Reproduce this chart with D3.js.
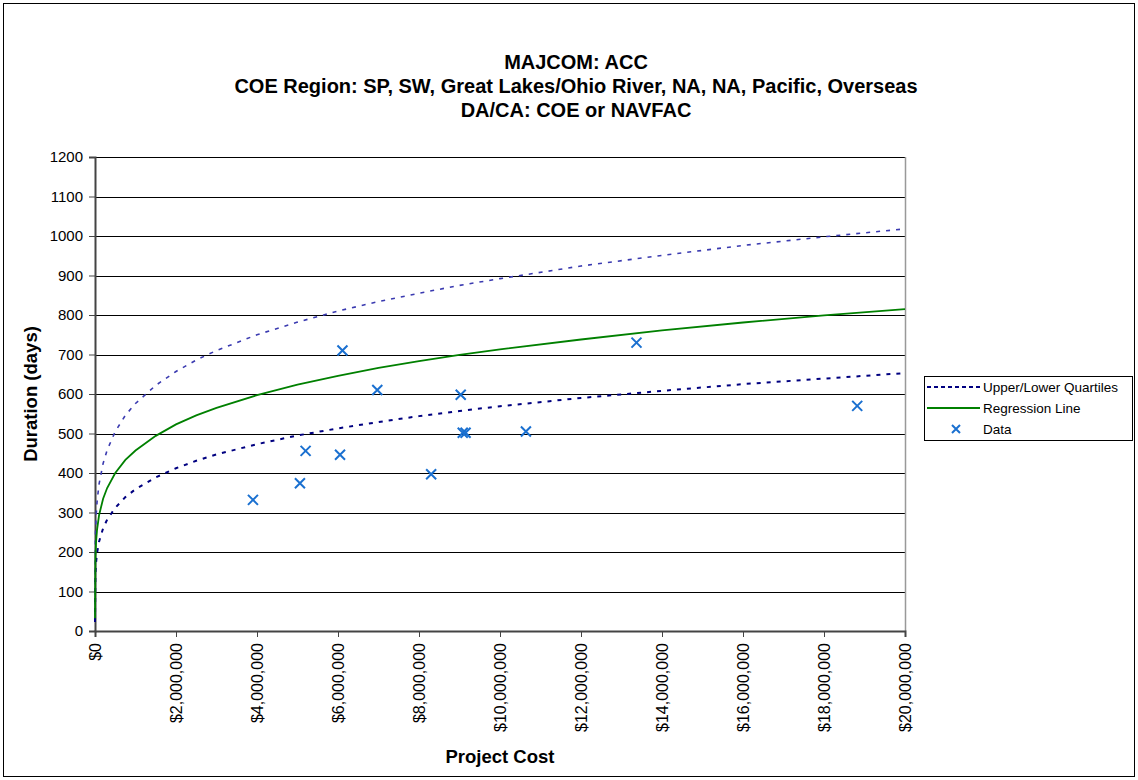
<!DOCTYPE html>
<html>
<head>
<meta charset="utf-8">
<script src="https://cdn.jsdelivr.net/npm/d3@7"></script>
<style>
  html, body { margin: 0; padding: 0; background: #fff; }
  svg text { font-family: "Liberation Sans", Arial, sans-serif; }
</style>
</head>
<body>
<svg id="chart" width="1138" height="780"></svg>
<script>
// ---- data ----
const titleLines = [
  "MAJCOM: ACC",
  "COE Region: SP, SW, Great Lakes/Ohio River, NA, NA, Pacific, Overseas",
  "DA/CA: COE or NAVFAC"
];
const xTicks = [0, 2000000, 4000000, 6000000, 8000000, 10000000, 12000000, 14000000, 16000000, 18000000, 20000000];
const yTicks = [0, 100, 200, 300, 400, 500, 600, 700, 800, 900, 1000, 1100, 1200];

// curve sample positions (project cost)
const curveX = [1, 10000, 25000, 50000, 100000, 200000, 300000, 500000, 750000, 1000000,
  1500000, 2000000, 2500000, 3000000, 4000000, 5000000, 6000000, 7000000, 8000000, 9000000,
  10000000, 12000000, 14000000, 16000000, 18000000, 20000000];
const regressionY = [32, 188, 224, 256, 293, 335, 362, 400, 433, 457,
  494, 523, 546, 565, 597, 624, 646, 666, 683, 699,
  713, 738, 761, 781, 799, 815];
const upperY = [42, 240, 286, 326, 372, 424, 458, 505, 546, 576,
  622, 657, 686, 710, 750, 782, 810, 834, 855, 875,
  892, 924, 951, 976, 998, 1018];
const lowerY = [23, 143, 172, 197, 226, 260, 282, 312, 339, 359,
  389, 412, 431, 447, 473, 495, 513, 529, 544, 557,
  569, 590, 608, 625, 639, 653];

// data points
const dataX = [3900000, 5060000, 5200000, 6050000, 6110000, 6970000, 8300000, 9030000, 9080000, 9150000, 10640000, 13370000, 18820000];
const dataY = [332, 374, 456, 446, 710, 610, 397, 598, 502, 502, 505, 730, 570];

const legendLabels = ["Upper/Lower Quartiles", "Regression Line", "Data"];

// ---- drawing ----
const svg = d3.select("#chart");
const W = 1138, H = 780;
const m = {left: 95, right: 905, top: 157, bottom: 631};

const x = d3.scaleLinear().domain([0, 20000000]).range([m.left, m.right]);
const y = d3.scaleLinear().domain([0, 1200]).range([m.bottom, m.top]);

svg.append("rect").attr("x", 0).attr("y", 0).attr("width", W).attr("height", H).attr("fill", "#fff");
svg.append("rect").attr("x", 3.5).attr("y", 3.5).attr("width", W - 7).attr("height", H - 7)
  .attr("fill", "none").attr("stroke", "#000").attr("stroke-width", 1);

// titles
svg.selectAll("text.title").data(titleLines).join("text")
  .attr("class", "title")
  .attr("x", 576).attr("y", (d, i) => 69 + i * 24)
  .attr("text-anchor", "middle")
  .attr("font-size", 20).attr("font-weight", "bold")
  .text(d => d);

// gridlines
svg.append("g").selectAll("line").data(yTicks.filter(d => d > 0)).join("line")
  .attr("x1", m.left).attr("x2", m.right)
  .attr("y1", d => Math.round(y(d)) + 0.5).attr("y2", d => Math.round(y(d)) + 0.5)
  .attr("stroke", "#000").attr("stroke-width", 1);

// right border of plot
svg.append("line").attr("x1", m.right + 0.5).attr("x2", m.right + 0.5)
  .attr("y1", m.top).attr("y2", m.bottom).attr("stroke", "#999").attr("stroke-width", 1.5);

// y axis
const yAxis = d3.axisLeft(y).tickValues(yTicks).tickSize(6).tickPadding(6).tickFormat(d3.format("d"));
const gy = svg.append("g").attr("transform", `translate(${m.left},0)`).call(yAxis);
gy.select(".domain").attr("stroke", "#444").attr("stroke-width", 2);
gy.selectAll(".tick line").attr("stroke", "#444");
gy.selectAll(".tick text").attr("font-size", 15).attr("fill", "#000")
  .attr("font-family", "Liberation Sans, Arial, sans-serif");

// x axis
const fmtMoney = d => "$" + d3.format(",")(d);
const xAxis = d3.axisBottom(x).tickValues(xTicks).tickSize(6).tickFormat(fmtMoney);
const gx = svg.append("g").attr("transform", `translate(0,${m.bottom})`).call(xAxis);
gx.select(".domain").attr("stroke", "#444").attr("stroke-width", 2);
gx.selectAll(".tick line").attr("stroke", "#444");
gx.selectAll(".tick text")
  .attr("font-size", 16).attr("fill", "#000")
  .attr("font-family", "Liberation Sans, Arial, sans-serif")
  .attr("transform", "rotate(-90)")
  .attr("text-anchor", "end")
  .attr("x", -12).attr("y", 0).attr("dy", "0.35em");

// axis titles
svg.append("text").attr("x", 500).attr("y", 763).attr("text-anchor", "middle")
  .attr("font-size", 18.5).attr("font-weight", "bold").text("Project Cost");
svg.append("text").attr("transform", "translate(37,394) rotate(-90)").attr("text-anchor", "middle")
  .attr("font-size", 18.5).attr("font-weight", "bold").text("Duration (days)");

// curves
const line = d3.line().x(d => x(d[0])).y(d => y(d[1]));
const plot = svg.append("g");
plot.append("path").datum(curveX.map((v, i) => [v, upperY[i]]))
  .attr("d", line).attr("fill", "none").attr("stroke", "#3a3ab0").attr("stroke-width", 1.6)
  .attr("stroke-dasharray", "4,6");
plot.append("path").datum(curveX.map((v, i) => [v, lowerY[i]]))
  .attr("d", line).attr("fill", "none").attr("stroke", "#000080").attr("stroke-width", 2)
  .attr("stroke-dasharray", "4,6");
plot.append("path").datum(curveX.map((v, i) => [v, regressionY[i]]))
  .attr("d", line).attr("fill", "none").attr("stroke", "#008000").attr("stroke-width", 1.8);

// data markers
const s = 5;
const markers = plot.selectAll("g.pt").data(dataX.map((v, i) => [v, dataY[i]])).join("g")
  .attr("transform", d => `translate(${x(d[0])},${y(d[1])})`);
markers.append("path").attr("d", `M${-s},${-s}L${s},${s}M${-s},${s}L${s},${-s}`)
  .attr("stroke", "#1a70d0").attr("stroke-width", 2).attr("fill", "none");

// legend
const lg = svg.append("g");
lg.append("rect").attr("x", 924.5).attr("y", 376.5).attr("width", 208).attr("height", 64)
  .attr("fill", "#fff").attr("stroke", "#000").attr("stroke-width", 1);
const ly = [387, 408, 429];
lg.append("line").attr("x1", 927).attr("x2", 980).attr("y1", ly[0]).attr("y2", ly[0])
  .attr("stroke", "#000080").attr("stroke-width", 2).attr("stroke-dasharray", "4,3");
lg.append("line").attr("x1", 927).attr("x2", 980).attr("y1", ly[1]).attr("y2", ly[1])
  .attr("stroke", "#008000").attr("stroke-width", 1.8);
lg.append("path").attr("transform", `translate(956,${ly[2]})`)
  .attr("d", `M${-s+1},${-s+1}L${s-1},${s-1}M${-s+1},${s-1}L${s-1},${-s+1}`)
  .attr("stroke", "#1a70d0").attr("stroke-width", 2).attr("fill", "none");
lg.selectAll("text").data(legendLabels).join("text")
  .attr("x", 983).attr("y", (d, i) => ly[i]).attr("dy", "0.35em")
  .attr("font-size", 13.5).text(d => d);
</script>
</body>
</html>
